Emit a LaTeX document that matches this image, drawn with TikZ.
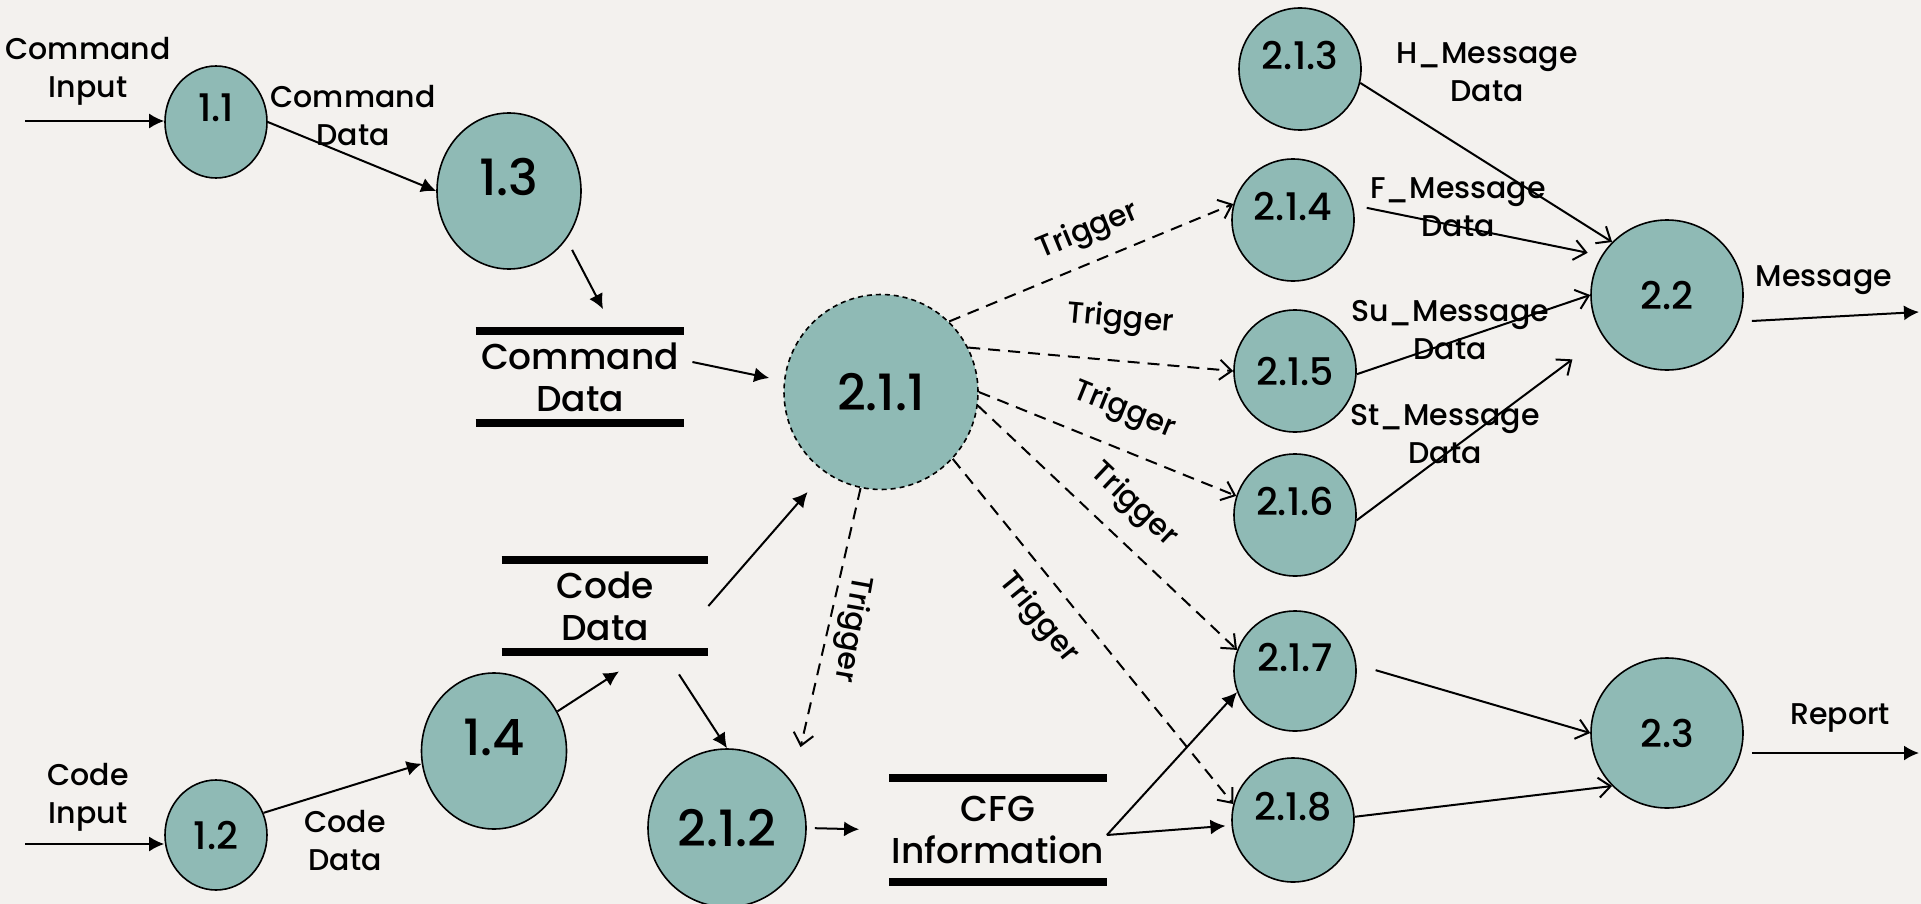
\documentclass[tikz,border=0pt]{standalone}
\usepackage{fontspec}
\setmainfont{Poppins}[UprightFont=* Medium]
\usepackage{xcolor}
\usepackage{tikz}
\usetikzlibrary{shapes.geometric, arrows.meta}

\definecolor{paper}{HTML}{F3F1EE}
\definecolor{procfill}{HTML}{8FBAB5}

\tikzset{
  proc/.style={ellipse, draw=black, line width=0.8pt, fill=procfill, inner sep=1pt,
    font=\fontsize{19}{21}\selectfont},
  bigproc/.style={proc, font=\fontsize{25}{28}\selectfont},
  hi/.style={text depth=14pt},
  store/.style={inner sep=0pt, align=center, font=\fontsize{18}{21}\selectfont},
  storeline/.style={line width=4pt},
  flow/.style={line width=1pt, -{Latex[length=7.5pt, width=7.5pt]}},
  openflow/.style={line width=1pt, -{Straight Barb[length=6pt, width=10pt]}},
  trigger/.style={line width=1pt, dash pattern=on 6pt off 4pt,
    -{Straight Barb[length=6pt, width=10pt]}},
  lbl/.style={align=center, font=\fontsize{15}{19}\selectfont},
  trig/.style={font=\fontsize{15}{18}\selectfont},
}

\begin{document}
\begin{tikzpicture}[x=0.5pt, y=-0.5pt]
            \useasboundingbox (0,0) rectangle (1921,904);
            \fill[paper] (0,0) rectangle (1921,904);

            % processes
            \node[proc, hi, minimum width=51pt, minimum height=56pt] (p11) at (216,122) {1.1};
            \node[proc, minimum width=51pt, minimum height=55pt] (p12) at (216,835) {1.2};
            \node[bigproc, hi, minimum width=72pt, minimum height=78pt] (p13) at (509,191) {1.3};
            \node[bigproc, hi, minimum width=72.5pt, minimum height=78pt] (p14) at (494,751) {1.4};
            \node[bigproc, minimum width=97pt, minimum height=97.5pt,
                  dash pattern=on 2.5pt off 2pt] (p211) at (881,392) {2.1.1};
            \node[bigproc, minimum width=79pt, minimum height=79pt] (p212) at (727,828) {2.1.2};
            \node[proc, hi, minimum width=61pt, minimum height=61pt] (p213) at (1300,69) {2.1.3};
            \node[proc, hi, minimum width=61pt, minimum height=61pt] (p214) at (1293,220) {2.1.4};
            \node[proc, minimum width=61pt, minimum height=61pt] (p215) at (1295,371) {2.1.5};
            \node[proc, hi, minimum width=61pt, minimum height=61pt] (p216) at (1295,515) {2.1.6};
            \node[proc, hi, minimum width=61pt, minimum height=60pt] (p217) at (1295,671) {2.1.7};
            \node[proc, hi, minimum width=61pt, minimum height=62pt] (p218) at (1293,820) {2.1.8};
            \node[proc, minimum width=76pt, minimum height=75pt] (p22) at (1667,295) {2.2};
            \node[proc, minimum width=76pt, minimum height=75pt] (p23) at (1667,733) {2.3};

            % data stores
            \node[store, minimum width=104pt, minimum height=45.5pt] (cmd) at (580,377) {Command\\Data};
            \node[store, minimum width=103pt, minimum height=46pt] (code) at (605,606) {Code\\Data};
            \node[store, minimum width=108.5pt, minimum height=51.5pt] (cfg) at (998,830) {CFG\\Information};
            \draw[storeline] (cmd.north west) -- (cmd.north east);
            \draw[storeline] (cmd.south west) -- (cmd.south east);
            \draw[storeline] (code.north west) -- (code.north east);
            \draw[storeline] (code.south west) -- (code.south east);
            \draw[storeline] (cfg.north west) -- (cfg.north east);
            \draw[storeline] (cfg.south west) -- (cfg.south east);

            % flow labels
            \node[lbl] (lcmdin) at (88,71) {Command\\Input};
            \node[lbl] (lcmd) at (353,116) {Command\\Data};
            \node[lbl] (lcodein) at (88,797) {Code\\Input};
            \node[lbl] (lcode) at (345,841) {Code\\Data};
            \node[lbl] (lh) at (1487,72) {H\_Message\\Data};
            \node[lbl] (lf) at (1458,207) {F\_Message\\Data};
            \node[lbl] (lsu) at (1450,330) {Su\_Message\\Data};
            \node[lbl] (lst) at (1445,434) {St\_Message\\Data};
            \node[lbl] (lmsg) at (1824,280) {Message};
            \node[lbl] (lrep) at (1840,718) {Report};

            \coordinate (cmdin) at (25,121);
            \coordinate (codein) at (25,844);
            \coordinate (msgout) at (1919,312);
            \coordinate (repout) at (1919,753);

            \draw[flow] (cmdin) -- (cmdin -| p11.west); % in-1.1
            \draw[flow] (codein) -- (codein -| p12.west); % in-1.2
            \draw[flow] (p11.east) -- (p13.west); % 1.1-1.3
            \draw[flow, shorten <=6pt] (p13.-40) -- ([xshift=11.5pt,yshift=11pt]cmd.north); % 1.3-cmd
            \draw[flow] ([xshift=4pt,yshift=7.5pt]cmd.east) -- ([xshift=-7pt,yshift=7pt]p211.west); % cmd-2.1.1
            \draw[flow] (p12.25) -- (p14.190); % 1.2-1.4
            \draw[flow] (p14.32) -- ([xshift=7pt,yshift=-9.5pt]code.south); % 1.4-code
            \draw[flow, shorten >=13pt] (code.east) -- (p211.235); % code-2.1.1
            \draw[flow] ([xshift=37pt,yshift=-11pt]code.south) -- (p212.north); % code-2.1.2
            \draw[flow, shorten <=4pt, shorten >=15pt] (p212.east) -- (cfg.west); % 2.1.2-cfg
            \draw[flow] ([yshift=-2.5pt]cfg.east) -- (p217.200); % cfg-2.1.7
            \draw[flow, shorten >=3pt] ([yshift=-2.5pt]cfg.east) -- (p218.185); % cfg-2.1.8

            % triggers
            \draw[trigger] (p211.46) -- (p214.165)
                node[trig, pos=0.53, above=3.5pt, sloped] (t1) {Trigger}; % 2.1.1-2.1.4
            \draw[trigger] (p211.27) -- (p215.west)
                node[trig, pos=0.56, above=9pt, sloped] (t2) {Trigger}; % 2.1.1-2.1.5
            \draw[trigger] (p211.0) -- (p216.162)
                node[trig, pos=0.51, above=7pt, sloped] (t3) {Trigger}; % 2.1.1-2.1.6
            \draw[trigger] (p211.-8) -- (p217.160)
                node[trig, pos=0.51, above=5.5pt, sloped] (t4) {Trigger}; % 2.1.1-2.1.7
            \draw[trigger] (p211.-43) -- (p218.165)
                node[trig, pos=0.40, below=5.5pt, sloped] (t5) {Trigger}; % 2.1.1-2.1.8
            \draw[trigger, shorten >=18pt] (p211.-102) -- (p212.35)
                node[trig, pos=0.465, anchor=south, rotate=-100] (t6) {Trigger}; % 2.1.1-2.1.2

            % messages
            \draw[openflow] (p213.-13) -- (p22.136); % 2.1.3-2.2
            \draw[openflow, shorten <=7pt, shorten >=7pt] (p214.14) -- (p22.149); % 2.1.4-2.2
            \draw[openflow] (p215.-3) -- (p22.west); % 2.1.5-2.2
            \draw[openflow, shorten >=19pt] (p216.-5) -- (p22.213); % 2.1.6-2.2
            \draw[openflow, shorten <=10pt] (p217.6) -- (p23.west); % 2.1.7-2.3
            \draw[openflow] (p218.3) -- (p23.224); % 2.1.8-2.3

            \draw[flow] ([xshift=4pt,yshift=-13pt]p22.east) -- (msgout); % 2.2-out
            \draw[flow] ([xshift=4pt,yshift=-10pt]p23.east) -- (repout); % 2.3-out
        \end{tikzpicture}
\end{document}
